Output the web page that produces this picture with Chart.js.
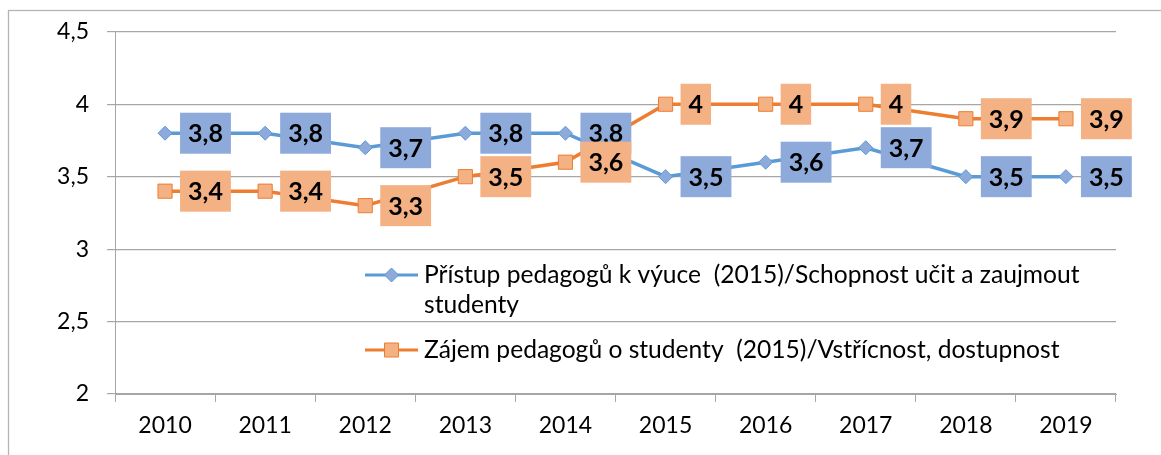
<!DOCTYPE html>
<html>
<head>
<meta charset="utf-8">
<script src="https://cdn.jsdelivr.net/npm/chart.js@4/dist/chart.umd.min.js"></script>
<style>
  html, body { margin: 0; padding: 0; background: #fff; }
  #wrap { width: 1161px; height: 455px; position: relative; }
</style>
</head>
<body>
<div id="wrap"><canvas id="c" width="1161" height="455"></canvas></div>
<script>
const categories = ['2010', '2011', '2012', '2013', '2014', '2015', '2016', '2017', '2018', '2019'];
const accessValues = [3.8, 3.8, 3.7, 3.8, 3.8, 3.5, 3.6, 3.7, 3.5, 3.5];
const interestValues = [3.4, 3.4, 3.3, 3.5, 3.6, 4, 4, 4, 3.9, 3.9];
const yTickValues = [2, 2.5, 3, 3.5, 4, 4.5];
const seriesNames = [
  ['Přístup pedagogů k výuce  (2015)/Schopnost učit a zaujmout', 'studenty'],
  ['Zájem pedagogů o studenty  (2015)/Vstřícnost, dostupnost']
];

const FONT = 'Lato, "Open Sans", sans-serif';
const fmt = v => String(v).replace('.', ',');

const colors = {
  blueLine: '#5b9bd5', blueFill: '#8eaadb', blueBox: '#8eaadb',
  orangeLine: '#ed7d31', orangeFill: '#f4b183', orangeBox: '#f4b183'
};

const frame = {
  id: 'frame',
  beforeDraw(chart) {
    const ctx = chart.ctx;
    ctx.save();
    ctx.fillStyle = '#fff';
    ctx.fillRect(0, 0, chart.width, chart.height);
    ctx.strokeStyle = '#b4b4b4';
    ctx.lineWidth = 1.3;
    ctx.strokeRect(8.5, 10.5, chart.width + 20, chart.height + 20);
    ctx.restore();
  }
};

const boxLabels = {
  id: 'boxLabels',
  afterDatasetsDraw(chart) {
    const ctx = chart.ctx;
    ctx.save();
    ctx.font = 'bold 25px ' + FONT;
    ctx.textAlign = 'center';
    ctx.textBaseline = 'middle';
    chart.data.datasets.forEach((ds, i) => {
      const meta = chart.getDatasetMeta(i);
      meta.data.forEach((pt, j) => {
        const txt = fmt(ds.data[j]);
        const w = ctx.measureText(txt).width + 16;
        const h = 41;
        const left = pt.x + 15;
        ctx.fillStyle = ds.boxColor;
        ctx.fillRect(left, pt.y - h / 2, w, h);
        ctx.fillStyle = '#000';
        ctx.fillText(txt, left + w / 2, pt.y + 1);
      });
    });
    ctx.restore();
  }
};

const insideLegend = {
  id: 'insideLegend',
  afterDraw(chart) {
    const ctx = chart.ctx;
    ctx.save();
    const x0 = 365, x1 = 418, tx = 424;
    const rows = [275, 350];
    chart.data.datasets.forEach((ds, i) => {
      const y = rows[i];
      ctx.strokeStyle = ds.borderColor;
      ctx.lineWidth = 3;
      ctx.beginPath();
      ctx.moveTo(x0, y);
      ctx.lineTo(x1, y);
      ctx.stroke();
      ctx.fillStyle = ds.pointBackgroundColor;
      ctx.strokeStyle = ds.pointBorderColor;
      ctx.lineWidth = 1;
      const cx = (x0 + x1) / 2;
      ctx.beginPath();
      if (ds.pointStyle === 'rectRot') {
        ctx.moveTo(cx, y - 7); ctx.lineTo(cx + 7, y); ctx.lineTo(cx, y + 7); ctx.lineTo(cx - 7, y); ctx.closePath();
      } else {
        ctx.rect(cx - 7, y - 7, 14, 14);
      }
      ctx.fill();
      ctx.stroke();
      ctx.fillStyle = '#000';
      ctx.font = '24.6px ' + FONT;
      ctx.textAlign = 'left';
      ctx.textBaseline = 'middle';
      seriesNames[i].forEach((line, k) => {
        ctx.fillText(line, tx, y + k * 30);
      });
    });
    ctx.restore();
  }
};

new Chart(document.getElementById('c'), {
  type: 'line',
  data: {
    labels: categories,
    datasets: [
      {
        label: seriesNames[0].join(' '),
        data: accessValues,
        borderColor: colors.blueLine,
        backgroundColor: colors.blueFill,
        pointBackgroundColor: colors.blueFill,
        pointBorderColor: colors.blueLine,
        pointBorderWidth: 1,
        pointStyle: 'rectRot',
        pointRadius: 7,
        borderWidth: 3.5,
        tension: 0,
        boxColor: colors.blueBox
      },
      {
        label: seriesNames[1].join(' '),
        data: interestValues,
        borderColor: colors.orangeLine,
        backgroundColor: colors.orangeFill,
        pointBackgroundColor: colors.orangeFill,
        pointBorderColor: colors.orangeLine,
        pointBorderWidth: 1,
        pointStyle: 'rect',
        pointRadius: 10,
        borderWidth: 3.5,
        tension: 0,
        boxColor: colors.orangeBox
      }
    ]
  },
  options: {
    responsive: false,
    animation: false,
    devicePixelRatio: 1,
    layout: { padding: { left: 0, top: 31, right: 45, bottom: 0 } },
    plugins: { legend: { display: false }, tooltip: { enabled: false } },
    scales: {
      x: {
        offset: true,
        grid: { display: true, drawOnChartArea: false, drawTicks: true, tickLength: 8, color: '#a6a6a6', offset: true },
        border: { display: true, color: '#a6a6a6' },
        ticks: { color: '#000', font: { family: FONT, size: 23 }, padding: 10, maxRotation: 0 },
        afterFit(scale) { scale.height = 61; }
      },
      y: {
        min: 2, max: 4.5,
        afterBuildTicks(scale) { scale.ticks = yTickValues.map(v => ({ value: v })); },
        grid: { color: '#a6a6a6', tickLength: 8, lineWidth: 1.2 },
        border: { display: true, color: '#a6a6a6' },
        ticks: { color: '#000', font: { family: FONT, size: 23 }, padding: 18, callback: v => fmt(v) },
        afterFit(scale) { scale.width = 115; }
      }
    }
  },
  plugins: [frame, boxLabels, insideLegend]
});
</script>
</body>
</html>
